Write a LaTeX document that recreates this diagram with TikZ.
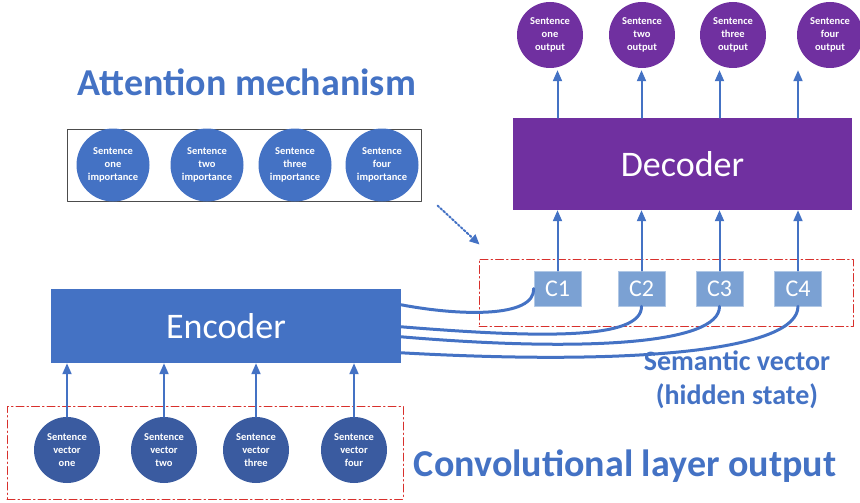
\documentclass[tikz,border=0pt]{standalone}
\usepackage{fontspec}
\setmainfont{Carlito}
\usetikzlibrary{arrows.meta}
\definecolor{accent}{HTML}{4472C4}
\definecolor{deepblue}{HTML}{3A5BA0}
\definecolor{lightblue}{HTML}{7BA1D3}
\definecolor{purp}{HTML}{7030A0}
\definecolor{dashred}{HTML}{D8302C}
\tikzset{
  ball/.style={circle,fill=#1,minimum size=66pt,inner sep=0pt,text=white,align=center,
    font=\fontsize{10.5}{13}\selectfont\bfseries},
  block/.style={fill=#1,inner sep=0pt,text=white,font=\fontsize{36}{40}\selectfont},
  cbox/.style={fill=lightblue,draw=lightblue!60!white,line width=0.6pt,minimum width=47pt,
    minimum height=35pt,inner sep=0pt,text=white,font=\fontsize{24}{28}\selectfont},
  groupbox/.style={draw=dashred,line width=1pt,dash pattern=on 8pt off 3pt on 1.5pt off 3pt,
    inner sep=0pt},
  heading/.style={text=accent,font=\fontsize{38}{42}\selectfont\bfseries},
  uparrow/.style={draw=accent,line width=2pt,-{Triangle[length=11pt,width=9pt]}},
  wire/.style={draw=accent,line width=3pt}
}
\begin{document}
\begin{tikzpicture}[x=1pt,y=-1pt,line cap=round,line join=round]
  \useasboundingbox (0,0) rectangle (860,503);
  % attention weights
  \node[draw=black!70,line width=1pt,minimum width=354pt,minimum height=72pt,inner sep=0pt]
    (attbox) at (244,165) {};
  \foreach \x/\w [count=\i] in {113/one,207/two,295/three,382/four}
    \node[ball=accent,minimum size=73pt] (imp\i) at (\x,165) {Sentence\\\w\\importance};
  \node[heading] (attn) at (247,82) {Attention mechanism};
  % encoder and its inputs
  \node[block=accent,minimum width=350pt,minimum height=74pt] (enc) at (226,326) {Encoder};
  \node[groupbox,minimum width=396pt,minimum height=93pt] (ingroup) at (205,452.5) {};
  \foreach \x/\w [count=\i] in {67/one,164/two,256/three,354/four}{
    \node[ball=deepblue] (in\i) at (\x,450) {Sentence\\vector\\\w};
    \draw[uparrow] (in\i.north) -- (in\i.north |- enc.south);
  }
  \node[heading] (conv) at (625,466) {Convolutional layer output};
  % context vectors and decoder
  \node[block=purp,minimum width=339pt,minimum height=92pt] (dec) at (682.5,164) {Decoder};
  \node[groupbox,minimum width=374pt,minimum height=67pt] (cgroup) at (666,292.5) {};
  \foreach \x/\w/\ox [count=\i] in {557.5/one/550,641.5/two/642,719.5/three/733,798/four/830}{
    \node[cbox] (c\i) at (\x,288.5) {C\i};
    \node[ball=purp] (out\i) at (\ox,35) {Sentence\\\w\\output};
    \draw[uparrow] (c\i.north) -- (c\i.north |- dec.south);
    \draw[uparrow] (c\i |- dec.north) -- ([yshift=-2pt]c\i |- out\i.south);
  }
  \draw[accent,line width=2pt,dotted,-{Triangle[length=10pt,width=9pt]}]
    ([shift={(16,4)}]attbox.south east) -- ([shift={(1,-14)}]cgroup.north west);
  % hidden state wires
  \draw[wire] ([yshift=-16pt]enc.north east) .. controls (460,316) and (535,318) .. (c1.west);
  \draw[wire] ([yshift=-38pt]enc.north east) .. controls (540,338) and (642,340) .. (c2.south);
  \draw[wire] ([yshift=-48pt]enc.north east) .. controls (580,352) and (720,345) .. (c3.south);
  \draw[wire] ([yshift=-64pt]enc.north east) .. controls (640,366) and (798,350) .. (c4.south);
  \node[heading,align=center,font=\fontsize{28}{34}\selectfont\bfseries] (sem) at (737,380)
    {Semantic vector\\(hidden state)};
\end{tikzpicture}
\end{document}
